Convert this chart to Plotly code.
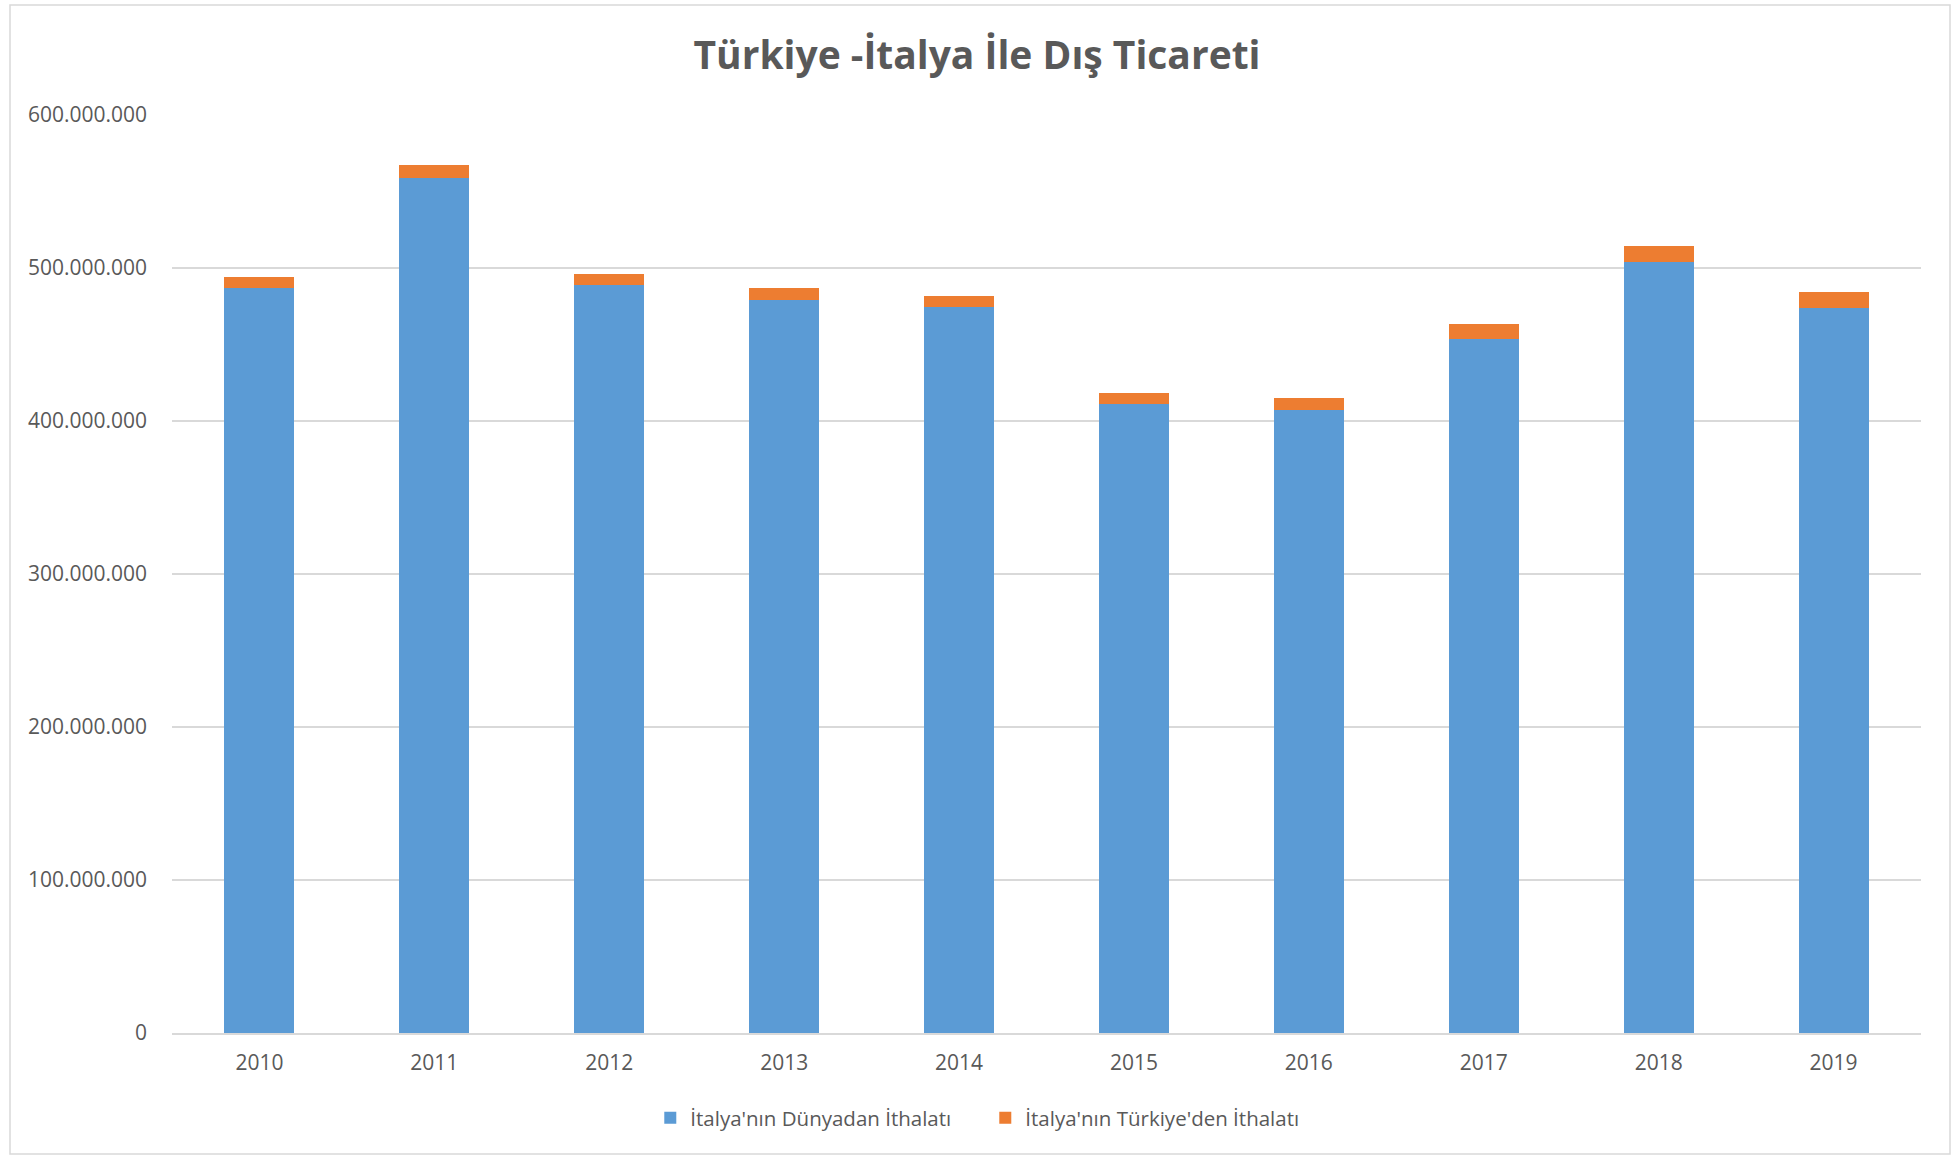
import plotly.graph_objects as go

years = ["2010", "2011", "2012", "2013", "2014", "2015", "2016", "2017", "2018", "2019"]
dunya = [486_800_000, 558_800_000, 489_200_000, 479_400_000, 474_200_000,
         410_900_000, 407_000_000, 453_900_000, 503_600_000, 473_700_000]
turkiye = [7_200_000, 8_500_000, 6_800_000, 7_400_000, 7_400_000,
           7_400_000, 7_800_000, 9_200_000, 10_900_000, 10_700_000]
ytickvals = [0, 100_000_000, 200_000_000, 300_000_000, 400_000_000, 500_000_000, 600_000_000]

FONT = "Open Sans"
GREY = "#595959"

fig = go.Figure()
fig.add_trace(go.Bar(x=years, y=dunya, name="İtalya'nın Dünyadan İthalatı",
                     marker=dict(color="#5B9BD5", line=dict(width=0))))
fig.add_trace(go.Bar(x=years, y=turkiye, name="İtalya'nın Türkiye'den İthalatı",
                     marker=dict(color="#ED7D31", line=dict(width=0))))

W, H = 1954, 1156
px_l, px_r, px_t, px_b = 172, 1921, 115, 1033  # plot area in window coords
L, T, R, B = px_l, px_t, W - px_r, H - px_b
pw, ph = px_r - px_l, px_b - px_t

def py(y):  # window y -> paper y
    return (px_b - y) / ph

def pxx(x):  # window x -> paper x
    return (x - px_l) / pw

fig.update_layout(
    width=W, height=H,
    barmode="stack", bargap=0.6,
    separators=",.",
    paper_bgcolor="white", plot_bgcolor="white",
    margin=dict(l=L, r=R, t=T, b=B, autoexpand=False),
    title=dict(text="<b>Türkiye -İtalya İle Dış Ticareti</b>", x=0.5, xanchor="center",
               y=1 - 55 / H, yanchor="middle",
               font=dict(family=FONT, size=39, color=GREY)),
    font=dict(family=FONT, color=GREY),
    showlegend=True,
    legend=dict(orientation="h", x=0.465, xanchor="center", y=py(1118),
                yanchor="middle", font=dict(family=FONT, size=20.5, color=GREY),
                traceorder="normal", itemwidth=30,
                entrywidthmode="pixels", entrywidth=290),
    xaxis=dict(showgrid=False, showline=True, linecolor="#D9D9D9", linewidth=1.5,
               ticks="", tickfont=dict(family=FONT, size=21, color=GREY),
               ticklabelstandoff=10),
    yaxis=dict(range=[0, 600_000_000], tickvals=ytickvals, tickformat=",d",
               showgrid=True, gridcolor="#D9D9D9", gridwidth=1.5,
               zeroline=False, showline=False, ticks="",
               tickfont=dict(family=FONT, size=21, color=GREY), ticklabelstandoff=24),
    shapes=[dict(type="rect", xref="paper", yref="paper",
                 x0=pxx(10), x1=pxx(1950), y0=py(1154), y1=py(5),
                 line=dict(color="#D9D9D9", width=1.5), fillcolor="rgba(0,0,0,0)", layer="below")],
)

fig.write_html("out.html", config={"displayModeBar": False},
               post_script="document.body.style.margin='0';")
